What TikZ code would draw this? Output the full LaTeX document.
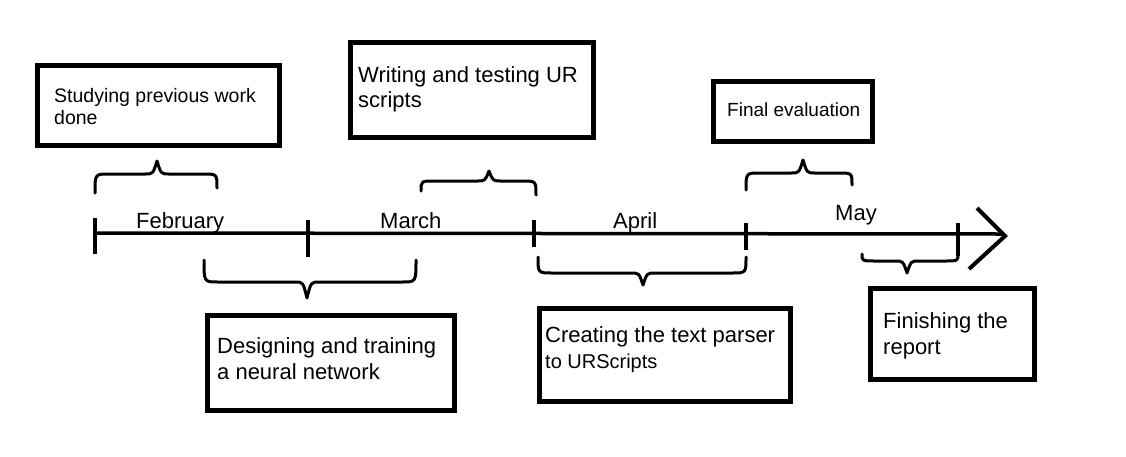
\documentclass[tikz,border=0pt]{standalone}
\usepackage{fontspec}
\setmainfont{Liberation Sans}
\usetikzlibrary{positioning}

\tikzset{
    taskbox/.style={draw, line width=5pt, inner sep=0pt},
    tasktext/.style={anchor=north west, inner sep=0pt, align=left},
    monthlabel/.style={anchor=north west, inner sep=0pt, font=\fontsize{22}{26}\selectfont},
    bracestroke/.style={line width=3pt, line cap=round, line join=round}
}

\begin{document}
\begin{tikzpicture}[x=1pt, y=-1pt]
        \useasboundingbox (0,0) rectangle (1126,456);

        % Time axis
        \coordinate (axisstart) at (93,233);
        \coordinate (axisend) at (1003,234);
        \draw[line width=3.5pt] (axisstart) -- (axisend);
        \draw[line width=4pt, line join=miter] (977,208) -- (1005,236) -- (969,269);

        % Month ticks
        \foreach \x/\ya/\yb in {95/218/254, 308/220/257, 534/220/247, 746/223/250, 958/223/256} {
            \draw[line width=3.5pt] (\x,\ya) -- (\x,\yb);
        }

        % Month labels
        \foreach \month/\x/\y in {February/136/212, March/380/212, April/613/212, May/835/205} {
            \node[monthlabel] (m\month) at (\x,\y) {\month};
        }

        % Braces: {left x}/{left y}/{right x}/{right y}/{flat y}/{tip x}/{tip y}
        \foreach \xa/\ya/\xb/\yb/\yf/\xt/\yt in {
            95/193/217/188/174/157/161,
            421/191/536/195/181/489/171,
            746/190/852/185/173/803/160,
            204/260/416/260/282/307/298,
            538/257/746/257/273/643/285,
            862/254/958/254/261/907/273
        } {
            \draw[bracestroke] (\xa,\ya) .. controls (\xa,\yf) .. (\xa+14,\yf)
                -- (\xt-12,\yf) .. controls (\xt-4,\yf) .. (\xt,\yt)
                .. controls (\xt+4,\yf) .. (\xt+12,\yf)
                -- (\xb-14,\yf) .. controls (\xb,\yf) .. (\xb,\yb);
        }

        % Task boxes above the axis
        \node[taskbox, minimum width=242pt, minimum height=80pt] (study) at (158.5,105.5) {};
        \node[tasktext, font=\fontsize{19.5}{22}\selectfont] (studytext) at (54,88)
            {Studying previous work\\done};

        \node[taskbox, minimum width=243pt, minimum height=95pt] (write) at (472,90) {};
        \node[tasktext, font=\fontsize{22}{25}\selectfont] (writetext) at (358,66)
            {Writing and testing UR\\scripts};

        \node[taskbox, minimum width=159pt, minimum height=60pt] (final) at (793,111.5) {};
        \node[tasktext, font=\fontsize{19}{22}\selectfont] (finaltext) at (727,103)
            {Final evaluation};

        % Task boxes below the axis
        \node[taskbox, minimum width=247pt, minimum height=95pt] (design) at (331,363) {};
        \node[tasktext, font=\fontsize{22}{26}\selectfont] (designtext) at (217,337)
            {Designing and training\\a neural network};

        \node[taskbox, minimum width=251pt, minimum height=93pt] (create) at (665,355) {};
        \node[tasktext, font=\fontsize{22}{26}\selectfont] (createtext) at (545,326)
            {Creating the text parser\\\fontsize{20}{26}\selectfont to URScripts};

        \node[taskbox, minimum width=164pt, minimum height=91pt] (finish) at (952.5,334) {};
        \node[tasktext, font=\fontsize{22}{26}\selectfont] (finishtext) at (883,312)
            {Finishing the\\report};
\end{tikzpicture}
\end{document}
